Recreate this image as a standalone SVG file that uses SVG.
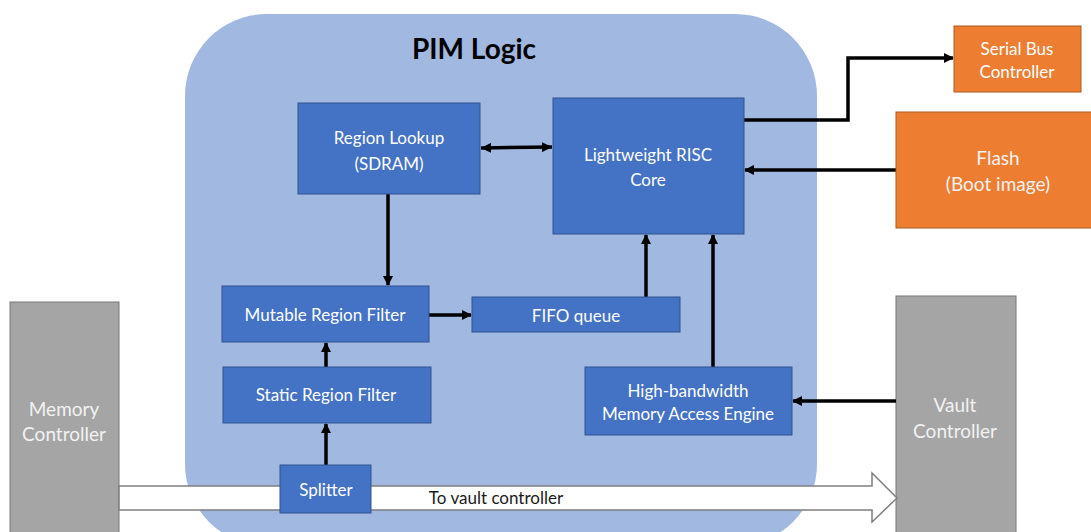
<svg xmlns="http://www.w3.org/2000/svg" width="1091" height="532" viewBox="0 0 1091 532">
  <defs>
    <marker id="head" viewBox="0 0 10 10" refX="10" refY="5" markerWidth="10" markerHeight="10" markerUnits="userSpaceOnUse" orient="auto-start-reverse">
      <path d="M0,0 L10,5 L0,10 Z" fill="#000"/>
    </marker>
    <style>
      text { font-family: Lato, "Open Sans", "Liberation Sans", sans-serif; text-anchor: middle; dominant-baseline: central; }
      .blue { fill: #4472C4; stroke: #2F528F; stroke-width: 1; }
      .orange { fill: #ED7D31; stroke: #AE5A21; stroke-width: 1; }
      .gray { fill: #A5A5A5; stroke: #787878; stroke-width: 1; }
      .lbl { fill: #FFFFFF; font-size: 17px; }
      .lbl-big { fill: #F2F2F2; font-size: 19px; }
      .wire { fill: none; stroke: #000; stroke-width: 3.5; }
    </style>
  </defs>

  <rect width="1091" height="532" fill="#FFFFFF"/>

  <!-- PIM logic container -->
  <g id="pim-logic">
    <rect x="185" y="14" width="632" height="532" rx="82" ry="82" fill="#A1B8E0"/>
    <text x="474" y="48" font-size="28" font-weight="bold" fill="#000">PIM Logic</text>
  </g>

  <!-- External controllers -->
  <g id="memory-controller">
    <rect class="gray" x="10" y="302" width="109" height="240"/>
    <text class="lbl-big" x="64" y="408">Memory</text>
    <text class="lbl-big" x="64" y="433">Controller</text>
  </g>
  <g id="vault-controller">
    <rect class="gray" x="896" y="296" width="120" height="246"/>
    <text class="lbl-big" x="955" y="404">Vault</text>
    <text class="lbl-big" x="955" y="430">Controller</text>
  </g>

  <!-- Pass-through path to the vault controller -->
  <g id="to-vault">
    <path d="M119,486 L872,486 L872,473 L897,498 L872,522 L872,510 L119,510 Z" fill="#FFFFFF" stroke="#7F7F7F" stroke-width="1.5"/>
    <text x="496" y="497" font-size="17" fill="#1A1A1A">To vault controller</text>
  </g>

  <g id="connectors">
    <!-- Region lookup <-> RISC core -->
    <line class="wire" x1="481" y1="148" x2="552" y2="147" marker-start="url(#head)" marker-end="url(#head)"/>
    <!-- Region lookup -> mutable filter -->
    <line class="wire" x1="388" y1="194" x2="388" y2="285"/>
    <!-- Mutable filter -> FIFO -->
    <line class="wire" x1="429" y1="315" x2="471" y2="315"/>
    <!-- FIFO -> RISC core -->
    <line class="wire" x1="646" y1="297" x2="646" y2="235"/>
    <!-- Static filter -> mutable filter -->
    <line class="wire" x1="326" y1="367" x2="326" y2="343"/>
    <!-- Splitter -> static filter -->
    <line class="wire" x1="326" y1="465" x2="326" y2="424"/>
    <!-- Memory access engine -> RISC core -->
    <line class="wire" x1="713" y1="367" x2="713" y2="235"/>
    <!-- Vault controller -> memory access engine -->
    <line class="wire" x1="896" y1="401" x2="793" y2="401"/>
    <!-- Flash -> RISC core -->
    <line class="wire" x1="896" y1="170" x2="745" y2="170"/>
    <!-- RISC core -> serial bus -->
    <polyline class="wire" points="744,120 848,120 848,58 953,58"/>
  </g>
  <!-- arrowheads drawn at line ends -->
  <g id="arrowheads" fill="#000">
    <path d="M383,276 L393,276 L388,286 Z"/>
    <path d="M462,310 L462,320 L472,315 Z"/>
    <path d="M641,244 L651,244 L646,234 Z"/>
    <path d="M321,352 L331,352 L326,342 Z"/>
    <path d="M321,433 L331,433 L326,423 Z"/>
    <path d="M708,244 L718,244 L713,234 Z"/>
    <path d="M802,396 L802,406 L792,401 Z"/>
    <path d="M754,165 L754,175 L744,170 Z"/>
    <path d="M944,53 L944,63 L954,58 Z"/>
  </g>

  <!-- PIM blocks -->
  <g id="region-lookup">
    <rect class="blue" x="298" y="103" width="182" height="91"/>
    <text class="lbl" x="389" y="137">Region Lookup</text>
    <text class="lbl" x="389" y="163">(SDRAM)</text>
  </g>
  <g id="risc-core">
    <rect class="blue" x="553" y="98" width="191" height="136"/>
    <text class="lbl" x="648" y="154">Lightweight RISC</text>
    <text class="lbl" x="648" y="179">Core</text>
  </g>
  <g id="mutable-filter">
    <rect class="blue" x="222" y="286" width="207" height="56"/>
    <text class="lbl" x="325" y="314">Mutable Region Filter</text>
  </g>
  <g id="fifo-queue">
    <rect class="blue" x="472" y="297" width="208" height="35"/>
    <text class="lbl" x="576" y="315">FIFO queue</text>
  </g>
  <g id="static-filter">
    <rect class="blue" x="223" y="367" width="208" height="56"/>
    <text class="lbl" x="326" y="394">Static Region Filter</text>
  </g>
  <g id="splitter">
    <rect class="blue" x="280" y="465" width="91" height="48"/>
    <text class="lbl" x="326" y="489">Splitter</text>
  </g>
  <g id="memory-access-engine">
    <rect class="blue" x="585" y="367" width="207" height="68"/>
    <text class="lbl" x="688" y="390">High-bandwidth</text>
    <text class="lbl" x="688" y="413">Memory Access Engine</text>
  </g>

  <!-- Off-chip peripherals -->
  <g id="serial-bus">
    <rect class="orange" x="954" y="26" width="127" height="66"/>
    <text class="lbl" x="1017" y="48">Serial Bus</text>
    <text class="lbl" x="1017" y="71">Controller</text>
  </g>
  <g id="flash">
    <rect class="orange" x="896" y="112" width="200" height="116"/>
    <text class="lbl-big" x="998" y="157" font-size="20" fill="#FFFFFF">Flash</text>
    <text class="lbl-big" x="998" y="183" font-size="20">(Boot image)</text>
  </g>
</svg>
